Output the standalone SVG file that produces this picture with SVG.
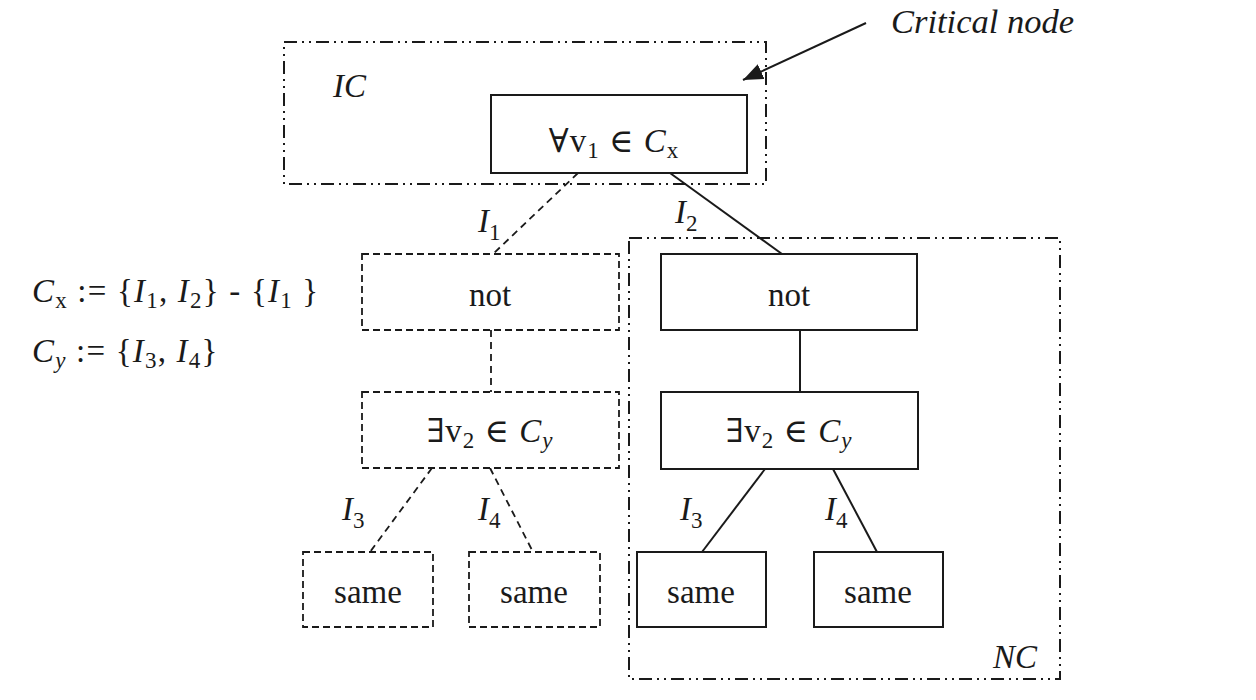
<svg xmlns="http://www.w3.org/2000/svg" width="1256" height="700" viewBox="0 0 1256 700">
<style>
text{font-family:"Liberation Serif","DejaVu Serif",serif;fill:#1a1a1a}
.lbl{font-size:33px}
.m{font-size:33px}
.it{font-style:italic}
.sub{font-size:23px}
.solid{fill:#fff;stroke:#1a1a1a;stroke-width:2}
.dash{fill:#fff;stroke:#1a1a1a;stroke-width:1.8;stroke-dasharray:7 4}
.dd{fill:none;stroke:#1a1a1a;stroke-width:2;stroke-dasharray:13 5 2 5 2 5}
.cs{stroke:#1a1a1a;stroke-width:2;fill:none}
.cd{stroke:#1a1a1a;stroke-width:1.8;fill:none;stroke-dasharray:7 5}
</style>
<defs>
<marker id="ah2" viewBox="0 0 10 10" refX="10" refY="5" markerWidth="20" markerHeight="16" markerUnits="userSpaceOnUse" orient="auto" preserveAspectRatio="none">
<path d="M0,0 L10,5 L0,10 z" fill="#1a1a1a"/>
</marker>
</defs>
<rect width="1256" height="700" fill="#fff"/>

<g id="regions">
<rect id="IC" class="dd" x="284" y="42" width="482" height="142"/>
<rect id="NC" class="dd" x="629" y="238" width="431" height="441"/>
<text class="m it" x="333" y="97" font-size="35">IC</text>
<text class="m it" x="993" y="668" font-size="35">NC</text>
</g>

<g id="connectors">
<line class="cd" x1="578" y1="173" x2="493" y2="254"/>
<line class="cs" x1="670" y1="173" x2="782" y2="254"/>
<line class="cd" x1="491" y1="330" x2="491" y2="392"/>
<line class="cs" x1="800" y1="330" x2="800" y2="392"/>
<line class="cd" x1="432" y1="468" x2="370" y2="552"/>
<line class="cd" x1="490" y1="468" x2="533" y2="552"/>
<line class="cs" x1="765" y1="469" x2="702" y2="552"/>
<line class="cs" x1="833" y1="469" x2="877" y2="552"/>
<line class="cs" x1="866" y1="23" x2="743" y2="80" marker-end="url(#ah2)"/>
<text class="m it" x="478" y="232">I<tspan class="sub" font-style="normal" dy="8">1</tspan></text>
<text class="m it" x="675" y="223">I<tspan class="sub" font-style="normal" dy="8">2</tspan></text>
<text class="m it" x="342" y="520">I<tspan class="sub" font-style="normal" dy="8">3</tspan></text>
<text class="m it" x="478" y="520">I<tspan class="sub" font-style="normal" dy="8">4</tspan></text>
<text class="m it" x="680" y="520">I<tspan class="sub" font-style="normal" dy="8">3</tspan></text>
<text class="m it" x="825" y="520">I<tspan class="sub" font-style="normal" dy="8">4</tspan></text>
</g>

<g id="critical-label">
<text class="it" font-size="34.5" x="891" y="33">Critical node</text>
</g>

<g id="root">
<rect class="solid" x="491" y="95" width="256" height="78"/>
<text class="m" x="614" y="152" text-anchor="middle" letter-spacing="1">∀v<tspan class="sub" dy="6">1</tspan><tspan dy="-6"> ∈ </tspan><tspan class="it">C</tspan><tspan class="sub" dy="6">x</tspan></text>
</g>

<g id="not-left">
<rect class="dash" x="362" y="254" width="257" height="76"/>
<text class="lbl" x="490" y="306" text-anchor="middle">not</text>
</g>
<g id="not-right">
<rect class="solid" x="661" y="254" width="256" height="76"/>
<text class="lbl" x="789" y="306" text-anchor="middle">not</text>
</g>

<g id="exists-left">
<rect class="dash" x="362" y="392" width="257" height="76"/>
<text class="m" x="490" y="442" text-anchor="middle" letter-spacing="1">∃v<tspan class="sub" dy="6">2</tspan><tspan dy="-6"> ∈ </tspan><tspan class="it">C</tspan><tspan class="sub it" dy="6">y</tspan></text>
</g>
<g id="exists-right">
<rect class="solid" x="661" y="392" width="257" height="77"/>
<text class="m" x="789" y="442" text-anchor="middle" letter-spacing="1">∃v<tspan class="sub" dy="6">2</tspan><tspan dy="-6"> ∈ </tspan><tspan class="it">C</tspan><tspan class="sub it" dy="6">y</tspan></text>
</g>

<g id="same-1">
<rect class="dash" x="303" y="552" width="130" height="75"/>
<text class="lbl" x="368" y="603" text-anchor="middle">same</text>
</g>
<g id="same-2">
<rect class="dash" x="469" y="552" width="131" height="75"/>
<text class="lbl" x="534" y="603" text-anchor="middle">same</text>
</g>
<g id="same-3">
<rect class="solid" x="637" y="552" width="129" height="75"/>
<text class="lbl" x="701" y="603" text-anchor="middle">same</text>
</g>
<g id="same-4">
<rect class="solid" x="814" y="552" width="129" height="75"/>
<text class="lbl" x="878" y="603" text-anchor="middle">same</text>
</g>

<g id="definitions">
<text class="m" x="32" y="302" letter-spacing="1.2"><tspan class="it">C</tspan><tspan class="sub" dy="6">x</tspan><tspan dy="-6"> := {</tspan><tspan class="it">I</tspan><tspan class="sub" dy="6">1</tspan><tspan dy="-6">, </tspan><tspan class="it">I</tspan><tspan class="sub" dy="6">2</tspan><tspan dy="-6">} - {</tspan><tspan class="it">I</tspan><tspan class="sub" dy="6">1</tspan><tspan dy="-6"> }</tspan></text>
<text class="m" x="32" y="362" letter-spacing="1.2"><tspan class="it">C</tspan><tspan class="sub it" dy="6">y</tspan><tspan dy="-6"> := {</tspan><tspan class="it">I</tspan><tspan class="sub" dy="6">3</tspan><tspan dy="-6">, </tspan><tspan class="it">I</tspan><tspan class="sub" dy="6">4</tspan><tspan dy="-6">}</tspan></text>
</g>
</svg>
